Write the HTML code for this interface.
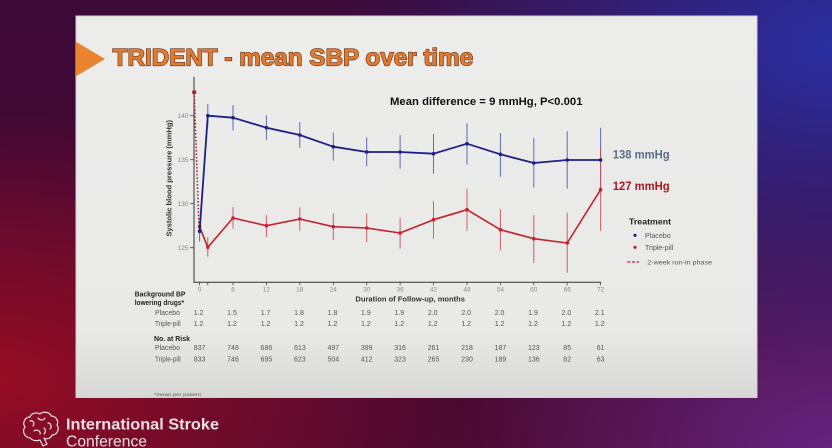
<!DOCTYPE html>
<html>
<head>
<meta charset="utf-8">
<style>
html,body{margin:0;padding:0;}
body{width:832px;height:448px;overflow:hidden;position:relative;
background:
 radial-gradient(ellipse 60% 75% at 100% 10%, rgba(42,46,160,1) 0%, rgba(42,46,160,0) 100%),
 radial-gradient(ellipse 55% 60% at 0% 85%, rgba(150,12,36,1) 0%, rgba(150,12,36,0) 100%),
 radial-gradient(ellipse 45% 55% at 100% 100%, rgba(100,36,128,1) 0%, rgba(100,36,128,0) 100%),
 linear-gradient(to bottom, #3c0a36 0%, #4c0a30 100%);
}
svg{position:absolute;left:0;top:0;}
text{font-family:"Liberation Sans",Arial,sans-serif;}
</style>
</head>
<body>
<svg width="832" height="448" viewBox="0 0 832 448" xmlns="http://www.w3.org/2000/svg">
<defs>
<linearGradient id="slide" x1="0" y1="0" x2="0" y2="1">
<stop offset="0" stop-color="#ececeb"/>
<stop offset="0.82" stop-color="#e9e9e8"/>
<stop offset="1" stop-color="#d8d8d7"/>
</linearGradient>
</defs>
<!-- slide -->
<rect x="75.5" y="15.5" width="682" height="382.5" fill="#cfcfd4"/>
<rect x="76.5" y="16.5" width="680" height="380.5" fill="url(#slide)"/>
<!-- title triangle -->
<polygon points="76,41.7 105,59 76,76.3" fill="#e8832f"/>
<text x="112.7" y="65.3" font-size="24" font-weight="bold" fill="#e37b2f" stroke="#6a3417" stroke-width="1.3" paint-order="stroke" textLength="360.5" lengthAdjust="spacingAndGlyphs">TRIDENT - mean SBP over time</text>

<!-- axes -->
<line x1="194" y1="76.7" x2="194" y2="282.8" stroke="#333" stroke-width="1"/>
<line x1="193.5" y1="282.3" x2="601" y2="282.3" stroke="#333" stroke-width="1"/>
<!-- y ticks -->
<g stroke="#444" stroke-width="0.8">
<line x1="190" y1="115.7" x2="194" y2="115.7"/>
<line x1="190" y1="159.7" x2="194" y2="159.7"/>
<line x1="190" y1="203.7" x2="194" y2="203.7"/>
<line x1="190" y1="247.7" x2="194" y2="247.7"/>
</g>
<g font-size="6.5" fill="#888" text-anchor="end">
<text x="188.5" y="118">140</text>
<text x="188.5" y="162">135</text>
<text x="188.5" y="206">130</text>
<text x="188.5" y="250">125</text>
</g>
<text transform="translate(171.5,178.3) rotate(-90)" text-anchor="middle" font-size="7" font-weight="bold" fill="#333" textLength="116.7" lengthAdjust="spacingAndGlyphs">Systolic blood pressure (mmHg)</text>

<!-- x ticks -->
<g stroke="#444" stroke-width="0.8">
<line x1="199.6" y1="282.3" x2="199.6" y2="285.3"/>
<line x1="207.8" y1="282.3" x2="207.8" y2="285.3"/>
<line x1="233" y1="282.3" x2="233" y2="285.3"/>
<line x1="266.4" y1="282.3" x2="266.4" y2="285.3"/>
<line x1="299.8" y1="282.3" x2="299.8" y2="285.3"/>
<line x1="333.3" y1="282.3" x2="333.3" y2="285.3"/>
<line x1="366.7" y1="282.3" x2="366.7" y2="285.3"/>
<line x1="400.1" y1="282.3" x2="400.1" y2="285.3"/>
<line x1="433.5" y1="282.3" x2="433.5" y2="285.3"/>
<line x1="467" y1="282.3" x2="467" y2="285.3"/>
<line x1="500.4" y1="282.3" x2="500.4" y2="285.3"/>
<line x1="533.8" y1="282.3" x2="533.8" y2="285.3"/>
<line x1="567.2" y1="282.3" x2="567.2" y2="285.3"/>
<line x1="600.6" y1="282.3" x2="600.6" y2="285.3"/>
</g>
<g font-size="6.5" fill="#888" text-anchor="middle">
<text x="199.6" y="291.6">0</text>
<text x="233" y="291.6">6</text>
<text x="266.4" y="291.6">12</text>
<text x="299.8" y="291.6">18</text>
<text x="333.3" y="291.6">24</text>
<text x="366.7" y="291.6">30</text>
<text x="400.1" y="291.6">36</text>
<text x="433.5" y="291.6">42</text>
<text x="467" y="291.6">48</text>
<text x="500.4" y="291.6">54</text>
<text x="533.8" y="291.6">60</text>
<text x="567.2" y="291.6">66</text>
<text x="600.6" y="291.6">72</text>
</g>
<text x="355.4" y="301.7" font-size="7.6" font-weight="bold" fill="#333" textLength="109.6" lengthAdjust="spacingAndGlyphs">Duration of Follow-up, months</text>

<!-- blue error bars -->
<g stroke="#4a55a8" stroke-width="1" opacity="0.85">
<line x1="199.6" y1="228.3" x2="199.6" y2="241.7"/>
<line x1="207.8" y1="104" x2="207.8" y2="127"/>
<line x1="233" y1="105" x2="233" y2="130.7"/>
<line x1="266.4" y1="115.3" x2="266.4" y2="140"/>
<line x1="299.8" y1="122" x2="299.8" y2="147.7"/>
<line x1="333.3" y1="132.7" x2="333.3" y2="160.7"/>
<line x1="366.7" y1="137.3" x2="366.7" y2="166.3"/>
<line x1="400.1" y1="135" x2="400.1" y2="168.7"/>
<line x1="433.5" y1="134" x2="433.5" y2="173.7"/>
<line x1="467" y1="123.3" x2="467" y2="164.7"/>
<line x1="500.4" y1="133" x2="500.4" y2="177"/>
<line x1="533.8" y1="138" x2="533.8" y2="187.7"/>
<line x1="567.2" y1="131.3" x2="567.2" y2="188.7"/>
<line x1="600.6" y1="127.7" x2="600.6" y2="192.3"/>
</g>
<!-- red error bars -->
<g stroke="#c84850" stroke-width="1" opacity="0.85">
<line x1="199.6" y1="223" x2="199.6" y2="230.5"/>
<line x1="207.8" y1="237.3" x2="207.8" y2="256.7"/>
<line x1="233" y1="207" x2="233" y2="228.7"/>
<line x1="266.4" y1="215" x2="266.4" y2="236.7"/>
<line x1="299.8" y1="207.3" x2="299.8" y2="230.7"/>
<line x1="333.3" y1="213.3" x2="333.3" y2="240"/>
<line x1="366.7" y1="213.3" x2="366.7" y2="242.3"/>
<line x1="400.1" y1="217.7" x2="400.1" y2="248.7"/>
<line x1="433.5" y1="201" x2="433.5" y2="238.7"/>
<line x1="467" y1="188.7" x2="467" y2="230.7"/>
<line x1="500.4" y1="209" x2="500.4" y2="250.3"/>
<line x1="533.8" y1="215" x2="533.8" y2="263"/>
<line x1="567.2" y1="212.7" x2="567.2" y2="272.7"/>
<line x1="600.6" y1="147.3" x2="600.6" y2="231"/>
</g>

<!-- run-in dotted -->
<line x1="194.2" y1="92.3" x2="198.9" y2="226" stroke="#a8202c" stroke-width="1.5" stroke-dasharray="1.6 1.8"/>
<circle cx="194.2" cy="92.3" r="2.2" fill="#a8202c"/>

<!-- red line -->
<polyline fill="none" stroke="#c4222c" stroke-width="1.6" stroke-linejoin="round"
points="199.6,226.7 207.8,247.3 233,218 266.4,225.7 299.8,219 333.3,226.7 366.7,228 400.1,233 433.5,219.7 467,209.7 500.4,229.7 533.8,238.7 567.2,243 600.6,189.7"/>
<g fill="#c4222c">
<circle cx="199.6" cy="226.7" r="1.8"/><circle cx="207.8" cy="247.3" r="1.8"/><circle cx="233" cy="218" r="1.8"/><circle cx="266.4" cy="225.7" r="1.8"/><circle cx="299.8" cy="219" r="1.8"/><circle cx="333.3" cy="226.7" r="1.8"/><circle cx="366.7" cy="228" r="1.8"/><circle cx="400.1" cy="233" r="1.8"/><circle cx="433.5" cy="219.7" r="1.8"/><circle cx="467" cy="209.7" r="1.8"/><circle cx="500.4" cy="229.7" r="1.8"/><circle cx="533.8" cy="238.7" r="1.8"/><circle cx="567.2" cy="243" r="1.8"/><circle cx="600.6" cy="189.7" r="1.8"/>
</g>
<!-- blue line -->
<polyline fill="none" stroke="#1c1f86" stroke-width="1.8" stroke-linejoin="round"
points="199.6,231.3 207.8,115.7 233,117.7 266.4,127.7 299.8,135 333.3,146.7 366.7,152 400.1,152 433.5,153.7 467,143.7 500.4,154.3 533.8,163 567.2,160 600.6,160"/>
<g fill="#1c1f86">
<circle cx="199.6" cy="231.3" r="1.8"/><circle cx="207.8" cy="115.7" r="1.8"/><circle cx="233" cy="117.7" r="1.8"/><circle cx="266.4" cy="127.7" r="1.8"/><circle cx="299.8" cy="135" r="1.8"/><circle cx="333.3" cy="146.7" r="1.8"/><circle cx="366.7" cy="152" r="1.8"/><circle cx="400.1" cy="152" r="1.8"/><circle cx="433.5" cy="153.7" r="1.8"/><circle cx="467" cy="143.7" r="1.8"/><circle cx="500.4" cy="154.3" r="1.8"/><circle cx="533.8" cy="163" r="1.8"/><circle cx="567.2" cy="160" r="1.8"/><circle cx="600.6" cy="160" r="1.8"/>
</g>

<!-- annotations -->
<text x="390" y="105" font-size="11.3" font-weight="bold" fill="#111" textLength="192.5" lengthAdjust="spacingAndGlyphs">Mean difference = 9 mmHg, P&lt;0.001</text>
<text x="612.7" y="158.4" font-size="11.5" font-weight="bold" fill="#5b6e86" textLength="57" lengthAdjust="spacingAndGlyphs">138 mmHg</text>
<text x="612.7" y="190.1" font-size="11.5" font-weight="bold" fill="#b3151f" textLength="57" lengthAdjust="spacingAndGlyphs">127 mmHg</text>

<!-- legend -->
<text x="629" y="224.6" font-size="8.5" font-weight="bold" fill="#222" textLength="42" lengthAdjust="spacingAndGlyphs">Treatment</text>
<circle cx="635" cy="235.3" r="1.6" fill="#1c1f86"/>
<text x="645" y="237.8" font-size="7" fill="#555" textLength="25.7" lengthAdjust="spacingAndGlyphs">Placebo</text>
<circle cx="635" cy="247.3" r="1.6" fill="#c4222c"/>
<text x="645" y="249.8" font-size="7" fill="#555" textLength="28.3" lengthAdjust="spacingAndGlyphs">Triple-pill</text>
<line x1="627.3" y1="262" x2="639" y2="262" stroke="#b8283a" stroke-width="1.3" stroke-dasharray="3.2 1.5"/>
<text x="647.3" y="264.4" font-size="6.8" fill="#555" textLength="64.7" lengthAdjust="spacingAndGlyphs">2-week run-in phase</text>

<!-- table -->
<text x="134.7" y="296.5" font-size="7" font-weight="bold" fill="#222" textLength="50.7" lengthAdjust="spacingAndGlyphs">Background BP</text>
<text x="134.7" y="305.2" font-size="7" font-weight="bold" fill="#222" textLength="49.3" lengthAdjust="spacingAndGlyphs">lowering drugs*</text>
<text x="155" y="314.8" font-size="7" fill="#555" textLength="25" lengthAdjust="spacingAndGlyphs">Placebo</text>
<text x="155" y="325.8" font-size="7" fill="#555" textLength="25.7" lengthAdjust="spacingAndGlyphs">Triple-pill</text>
<g font-size="7" fill="#555" text-anchor="middle">
<text x="198.6" y="314.8">1.2</text><text x="232" y="314.8">1.5</text><text x="265.6" y="314.8">1.7</text><text x="299" y="314.8">1.8</text><text x="332.5" y="314.8">1.8</text><text x="365.9" y="314.8">1.9</text><text x="399.3" y="314.8">1.9</text><text x="432.7" y="314.8">2.0</text><text x="466.2" y="314.8">2.0</text><text x="499.6" y="314.8">2.0</text><text x="533" y="314.8">1.9</text><text x="566.4" y="314.8">2.0</text><text x="599.8" y="314.8">2.1</text>
<text x="198.6" y="325.8">1.2</text><text x="232" y="325.8">1.2</text><text x="265.6" y="325.8">1.2</text><text x="299" y="325.8">1.2</text><text x="332.5" y="325.8">1.2</text><text x="365.9" y="325.8">1.2</text><text x="399.3" y="325.8">1.2</text><text x="432.7" y="325.8">1.2</text><text x="466.2" y="325.8">1.2</text><text x="499.6" y="325.8">1.2</text><text x="533" y="325.8">1.2</text><text x="566.4" y="325.8">1.2</text><text x="599.8" y="325.8">1.2</text>
</g>
<text x="154" y="340.8" font-size="7" font-weight="bold" fill="#222" textLength="36" lengthAdjust="spacingAndGlyphs">No. at Risk</text>
<text x="155" y="350.2" font-size="7" fill="#555" textLength="25" lengthAdjust="spacingAndGlyphs">Placebo</text>
<text x="155" y="361.5" font-size="7" fill="#555" textLength="25.7" lengthAdjust="spacingAndGlyphs">Triple-pill</text>
<g font-size="7" fill="#555" text-anchor="middle">
<text x="199.6" y="350.2">837</text><text x="233" y="350.2">748</text><text x="266.4" y="350.2">686</text><text x="299.8" y="350.2">613</text><text x="333.3" y="350.2">497</text><text x="366.7" y="350.2">399</text><text x="400.1" y="350.2">316</text><text x="433.5" y="350.2">261</text><text x="467" y="350.2">218</text><text x="500.4" y="350.2">187</text><text x="533.8" y="350.2">123</text><text x="567.2" y="350.2">85</text><text x="600.6" y="350.2">61</text>
<text x="199.6" y="361.5">833</text><text x="233" y="361.5">746</text><text x="266.4" y="361.5">695</text><text x="299.8" y="361.5">623</text><text x="333.3" y="361.5">504</text><text x="366.7" y="361.5">412</text><text x="400.1" y="361.5">323</text><text x="433.5" y="361.5">265</text><text x="467" y="361.5">230</text><text x="500.4" y="361.5">189</text><text x="533.8" y="361.5">136</text><text x="567.2" y="361.5">82</text><text x="600.6" y="361.5">63</text>
</g>
<text x="154" y="396" font-size="4.6" fill="#555" textLength="47" lengthAdjust="spacingAndGlyphs">*mean per patient</text>

<!-- footer logo -->
<g fill="none" stroke="#e6dde2" stroke-width="1.2" stroke-linecap="round" stroke-linejoin="round">
<path d="M30,438 C24,437 22,431 25,427 C22,423 25,417 30,417 C31,413 37,412 40,414 C43,411 50,412 51,416 C56,416 59,421 57,425 C60,429 57,435 52,435 C51,438 47,440 44,438 L47,444 L43,446 L40,440 C37,441 33,441 30,438 Z"/>
<path d="M30,421 C33,420 35,423 33,426 M38,418 C40,421 44,420 45,418 M48,423 C51,423 52,427 50,429 M34,431 C37,429 41,431 40,434 M44,428 C46,430 46,432 44,434"/>
</g>
<text x="66" y="429.5" font-size="16" font-weight="bold" fill="#e8dfe3" textLength="153" lengthAdjust="spacingAndGlyphs">International Stroke</text>
<text x="66" y="446.5" font-size="15.5" fill="#e8dfe3" textLength="81" lengthAdjust="spacingAndGlyphs">Conference</text>
</svg>
</body>
</html>
